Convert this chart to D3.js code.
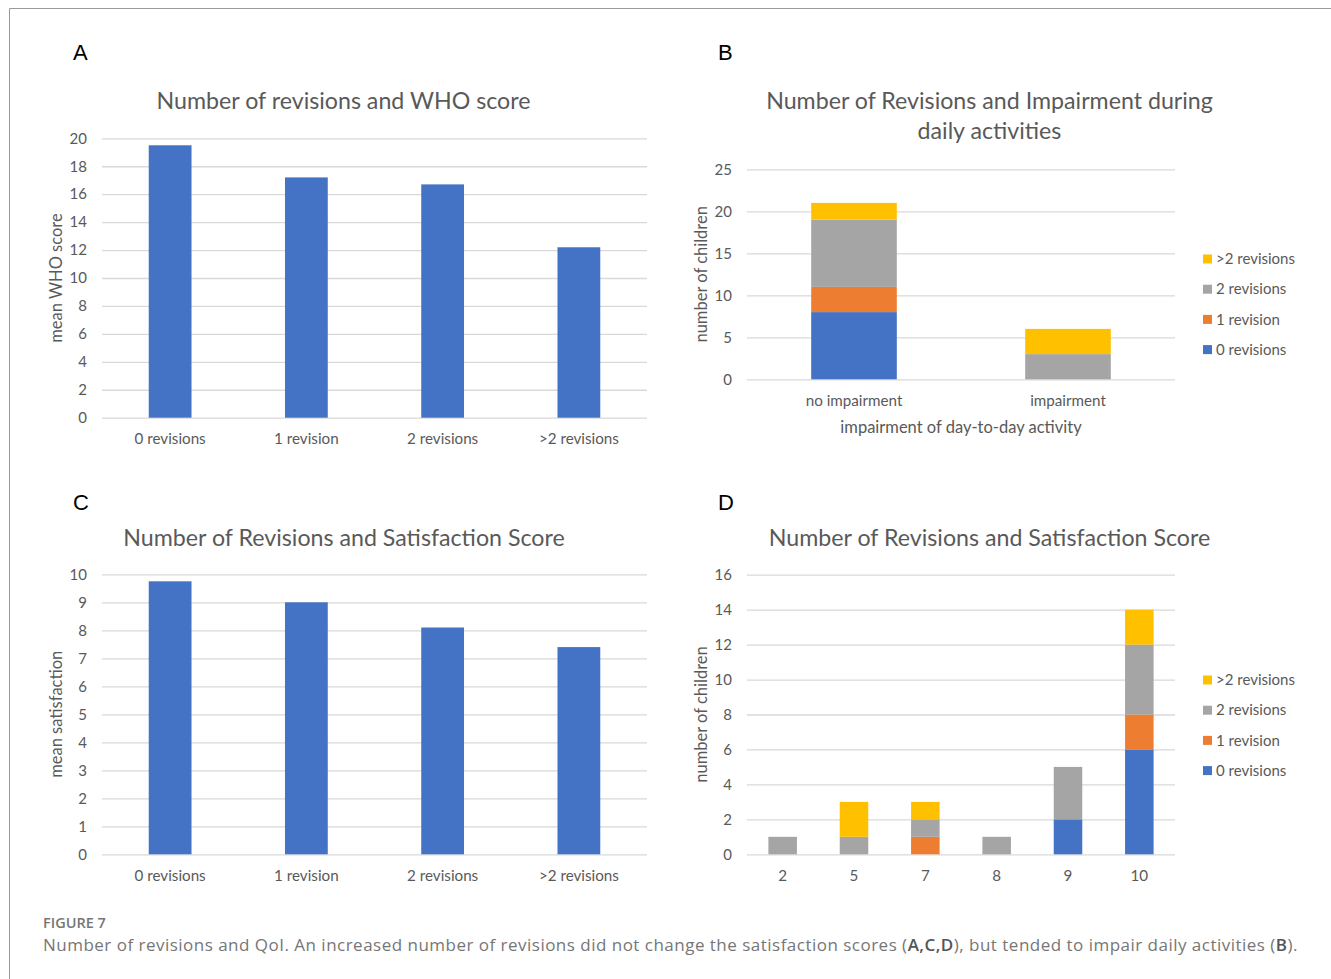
<!DOCTYPE html>
<html>
<head>
<meta charset="utf-8">
<script src="https://cdn.jsdelivr.net/npm/d3@7"></script>
<style>
  html, body { margin: 0; padding: 0; background: #fff; }
  svg { display: block; }
  .chart text { font-family: Lato, "Open Sans", sans-serif; fill: #595959; }
  .letter { font-family: "Liberation Sans", Arial, sans-serif; font-size: 22px; fill: #000; }
  .caption { font-family: "Open Sans", sans-serif; fill: #767676; }
</style>
</head>
<body>
<svg id="fig" width="1331" height="979"></svg>
<script>
// ---- data ----
const revisionGroups = ["0 revisions", "1 revision", "2 revisions", ">2 revisions"];
const whoScoreMean = [19.5, 17.2, 16.7, 12.2];
const whoTicks = [0, 2, 4, 6, 8, 10, 12, 14, 16, 18, 20];

const satisfactionMean = [9.75, 9.0, 8.1, 7.4];
const satisfactionTicks = [0, 1, 2, 3, 4, 5, 6, 7, 8, 9, 10];

const impairmentGroups = ["no impairment", "impairment"];
const impairRev0 = [8, 0];
const impairRev1 = [3, 0];
const impairRev2 = [8, 3];
const impairRevGt2 = [2, 3];
const impairTicks = [0, 5, 10, 15, 20, 25];

const satisfactionScores = ["2", "5", "7", "8", "9", "10"];
const scoreRev0 = [0, 0, 0, 0, 2, 6];
const scoreRev1 = [0, 0, 1, 0, 0, 2];
const scoreRev2 = [1, 1, 1, 1, 3, 4];
const scoreRevGt2 = [0, 2, 1, 0, 0, 2];
const scoreTicks = [0, 2, 4, 6, 8, 10, 12, 14, 16];

const seriesColors = ["#4472C4", "#ED7D31", "#A5A5A5", "#FFC000"];

const svg = d3.select("#fig");

// frame around the figure
svg.append("path")
  .attr("d", "M9.5,979 V8.5 H1331")
  .attr("fill", "none")
  .attr("stroke", "#9a9a9a")
  .attr("stroke-width", 1);

// builds the shared frame of one bar chart: scales, gridlines, tick labels, titles
function chartFrame(cfg) {
  const g = svg.append("g").attr("class", "chart");
  const x = d3.scaleBand()
    .domain(cfg.categories)
    .range([cfg.left, cfg.right])
    .paddingInner(cfg.gap)
    .paddingOuter(cfg.gap / 2);
  const y = d3.scaleLinear()
    .domain([0, d3.max(cfg.ticks)])
    .range([cfg.bottom, cfg.top]);

  const yAxis = d3.axisLeft(y)
    .tickValues(cfg.ticks)
    .tickSize(-(cfg.right - cfg.left))
    .tickPadding(15)
    .tickFormat(d3.format("d"));
  const ya = g.append("g").attr("transform", `translate(${cfg.left},0)`).call(yAxis);
  ya.select(".domain").remove();
  ya.selectAll(".tick line").attr("stroke", "#d9d9d9").attr("stroke-width", 1.3);
  ya.selectAll(".tick text").attr("font-size", 15).attr("fill", "#595959");

  const xAxis = d3.axisBottom(x).tickSize(0).tickPadding(cfg.xPad);
  const xa = g.append("g").attr("transform", `translate(0,${cfg.bottom})`).call(xAxis);
  xa.select(".domain").remove();
  xa.selectAll(".tick text").attr("font-size", 15.2).attr("fill", "#595959");

  // chart title
  const t = g.append("text")
    .attr("text-anchor", "middle")
    .attr("font-size", 23.2);
  cfg.title.forEach((line, i) => {
    t.append("tspan")
      .attr("x", cfg.titleX)
      .attr("y", cfg.titleY + i * 30)
      .text(line);
  });

  // y axis title
  g.append("text")
    .attr("transform", `translate(${cfg.yTitleX},${(cfg.top + cfg.bottom) / 2}) rotate(-90)`)
    .attr("text-anchor", "middle")
    .attr("dy", "0.35em")
    .attr("font-size", 16.5)
    .text(cfg.yTitle);

  if (cfg.xTitle) {
    g.append("text")
      .attr("x", cfg.xTitleX)
      .attr("y", cfg.xTitleY)
      .attr("text-anchor", "middle")
      .attr("dy", "0.35em")
      .attr("font-size", 16.5)
      .text(cfg.xTitle);
  }

  // panel letter
  svg.append("text")
    .attr("class", "letter")
    .attr("x", cfg.letterX)
    .attr("y", cfg.letterY)
    .text(cfg.letter);

  return { g, x, y };
}

function simpleBars(cfg, values) {
  const { g, x, y } = chartFrame(cfg);
  g.append("g").selectAll("rect")
    .data(cfg.categories.map((c, i) => ({ c, v: values[i] })))
    .join("rect")
    .attr("x", d => x(d.c))
    .attr("width", x.bandwidth())
    .attr("y", d => y(d.v))
    .attr("height", d => y(0) - y(d.v))
    .attr("fill", seriesColors[0]);
}

function stackedBars(cfg, seriesValues) {
  const { g, x, y } = chartFrame(cfg);
  const keys = revisionGroups;
  const rows = cfg.categories.map((c, i) => {
    const r = { cat: c };
    keys.forEach((k, j) => { r[k] = seriesValues[j][i]; });
    return r;
  });
  const stacked = d3.stack().keys(keys)(rows);
  g.append("g").selectAll("g")
    .data(stacked)
    .join("g")
    .attr("fill", (d, i) => seriesColors[i])
    .selectAll("rect")
    .data(d => d.filter(s => s[1] - s[0] > 0))
    .join("rect")
    .attr("x", d => x(d.data.cat))
    .attr("width", x.bandwidth())
    .attr("y", d => y(d[1]))
    .attr("height", d => y(d[0]) - y(d[1]));

  // legend, top entry is the last series
  const lg = g.append("g");
  keys.slice().reverse().forEach((k, i) => {
    const cy = cfg.legendY + i * 30.2;
    lg.append("rect")
      .attr("x", cfg.legendX)
      .attr("y", cy - 4.5)
      .attr("width", 9)
      .attr("height", 9)
      .attr("fill", seriesColors[keys.length - 1 - i]);
    lg.append("text")
      .attr("x", cfg.legendX + 13)
      .attr("y", cy)
      .attr("dy", "0.35em")
      .attr("font-size", 15)
      .text(k);
  });
}

// A: mean WHO score per revision group
simpleBars({
  categories: revisionGroups, ticks: whoTicks,
  left: 102, right: 647, top: 138.3, bottom: 417.7, gap: 0.686, xPad: 15.5,
  title: ["Number of revisions and WHO score"], titleX: 343.5, titleY: 109,
  yTitle: "mean WHO score", yTitleX: 56,
  letter: "A", letterX: 73, letterY: 60
}, whoScoreMean);

// B: impairment of daily activities, stacked by revisions
stackedBars({
  categories: impairmentGroups, ticks: impairTicks,
  left: 747, right: 1175, top: 169.3, bottom: 379.3, gap: 0.6, xPad: 15.5,
  title: ["Number of Revisions and Impairment during", "daily activities"], titleX: 989.5, titleY: 109,
  yTitle: "number of children", yTitleX: 701,
  xTitle: "impairment of day-to-day activity", xTitleX: 961, xTitleY: 427,
  legendX: 1203, legendY: 259,
  letter: "B", letterX: 718, letterY: 59.5
}, [impairRev0, impairRev1, impairRev2, impairRevGt2]);

// C: mean satisfaction per revision group
simpleBars({
  categories: revisionGroups, ticks: satisfactionTicks,
  left: 102, right: 647, top: 574.3, bottom: 854.3, gap: 0.686, xPad: 15.5,
  title: ["Number of Revisions and Satisfaction Score"], titleX: 344, titleY: 546,
  yTitle: "mean satisfaction", yTitleX: 56,
  letter: "C", letterX: 73, letterY: 510
}, satisfactionMean);

// D: satisfaction score distribution, stacked by revisions
stackedBars({
  categories: satisfactionScores, ticks: scoreTicks,
  left: 747, right: 1175, top: 574.7, bottom: 854.3, gap: 0.6, xPad: 15.5,
  title: ["Number of Revisions and Satisfaction Score"], titleX: 989.5, titleY: 546,
  yTitle: "number of children", yTitleX: 701,
  legendX: 1203, legendY: 680,
  letter: "D", letterX: 718, letterY: 510
}, [scoreRev0, scoreRev1, scoreRev2, scoreRevGt2]);

// ---- figure caption ----
svg.append("text")
  .attr("class", "caption")
  .attr("x", 43)
  .attr("y", 927.5)
  .attr("font-size", 14.5)
  .attr("font-weight", 600)
  .attr("fill", "#707070")
  .text("FIGURE 7");

const cap = svg.append("text")
  .attr("class", "caption")
  .attr("x", 43)
  .attr("y", 951)
  .attr("font-size", 17);
cap.append("tspan").text("Number of revisions and QoI. An increased number of revisions did not change the satisfaction scores (");
cap.append("tspan").attr("font-weight", 600).attr("fill", "#555").text("A,C,D");
cap.append("tspan").text("), but tended to impair daily activities (");
cap.append("tspan").attr("font-weight", 600).attr("fill", "#555").text("B");
cap.append("tspan").text(").");

// spread the caption line across the text column
const capNode = cap.node();
const natural = capNode.getComputedTextLength();
const nChars = capNode.textContent.length;
cap.attr("letter-spacing", (1255 - natural) / nChars);
</script>
</body>
</html>
